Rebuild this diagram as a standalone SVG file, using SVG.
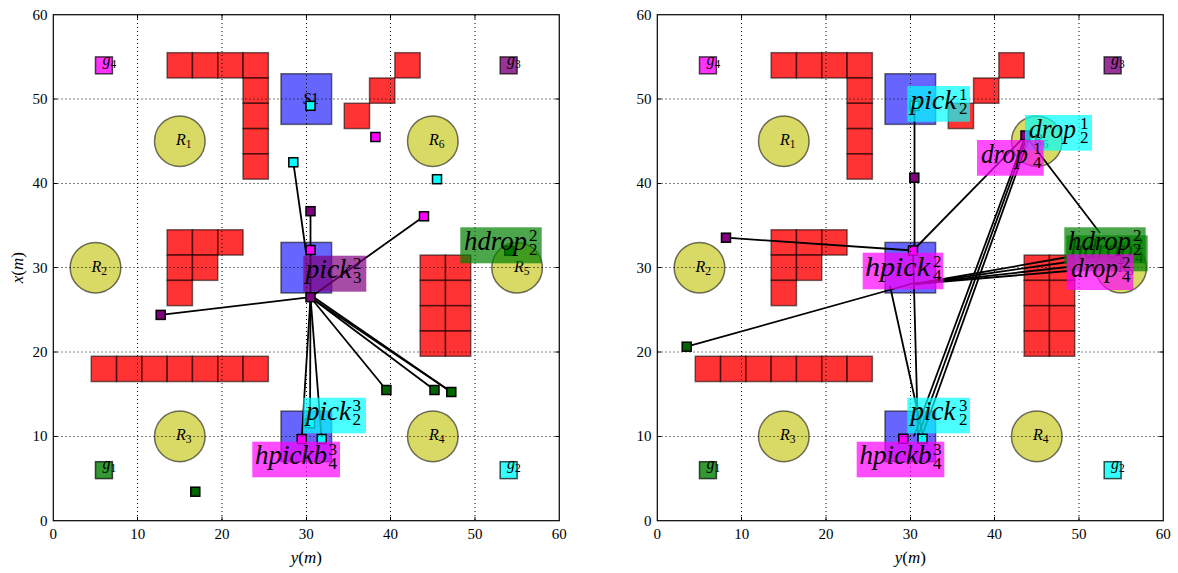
<svg xmlns="http://www.w3.org/2000/svg" width="1178" height="573" viewBox="0 0 1178 573">
<style>
.bg{fill:#fff}
.obs{fill:#ff0000;fill-opacity:0.8;stroke:#000;stroke-opacity:0.55;stroke-width:1.5}
.reg{fill:#bfbf00;fill-opacity:0.6;stroke:#000;stroke-opacity:0.55;stroke-width:1.5}
.blue{fill:#0000ff;fill-opacity:0.6;stroke:#000;stroke-opacity:0.55;stroke-width:1.5}
.grid{stroke:#000;stroke-width:1;stroke-dasharray:1,3;fill:none}
.frame{fill:none;stroke:#000;stroke-width:1.2}
.tick{stroke:#000;stroke-width:1}
.tl{font-family:"Liberation Serif",serif;font-size:15px;fill:#000}
.it{font-family:"Liberation Serif",serif;font-style:italic;fill:#000}
.rm{font-family:"Liberation Serif",serif;font-style:normal;fill:#000}
.lbl{font-size:16px}
.big{font-size:27px}
.dig{font-family:"Liberation Serif",serif;font-size:17px;fill:#000}
.m{stroke:#000;stroke-width:1.5}
.cy{fill:#00ffff}.mg{fill:#ff00ff}.pu{fill:#800080}.gr{fill:#006400}
.goal{stroke:#000;stroke-opacity:0.7;stroke-width:1.5;fill-opacity:0.8}
.edge{stroke:#000;stroke-width:1.8;fill:none}
.bx{stroke:none;fill-opacity:0.7}
</style>
<rect class="bg" x="0" y="0" width="1178" height="573"/>

<!-- ===== LEFT PLOT STATIC ===== -->
<g id="left-static">
<g id="L-obstacles">
<rect class="obs" x="167.15" y="52.67" width="25.3" height="25.3"/>
<rect class="obs" x="192.44" y="52.67" width="25.3" height="25.3"/>
<rect class="obs" x="217.74" y="52.67" width="25.3" height="25.3"/>
<rect class="obs" x="243.04" y="52.67" width="25.3" height="25.3"/>
<rect class="obs" x="243.04" y="77.97" width="25.3" height="25.3"/>
<rect class="obs" x="243.04" y="103.27" width="25.3" height="25.3"/>
<rect class="obs" x="243.04" y="128.57" width="25.3" height="25.3"/>
<rect class="obs" x="243.04" y="153.86" width="25.3" height="25.3"/>
<rect class="obs" x="167.15" y="229.76" width="25.3" height="25.3"/>
<rect class="obs" x="192.44" y="229.76" width="25.3" height="25.3"/>
<rect class="obs" x="217.74" y="229.76" width="25.3" height="25.3"/>
<rect class="obs" x="167.15" y="255.06" width="25.3" height="25.3"/>
<rect class="obs" x="192.44" y="255.06" width="25.3" height="25.3"/>
<rect class="obs" x="167.15" y="280.36" width="25.3" height="25.3"/>
<rect class="obs" x="91.25" y="356.26" width="25.3" height="25.3"/>
<rect class="obs" x="116.55" y="356.26" width="25.3" height="25.3"/>
<rect class="obs" x="141.85" y="356.26" width="25.3" height="25.3"/>
<rect class="obs" x="167.15" y="356.26" width="25.3" height="25.3"/>
<rect class="obs" x="192.44" y="356.26" width="25.3" height="25.3"/>
<rect class="obs" x="217.74" y="356.26" width="25.3" height="25.3"/>
<rect class="obs" x="243.04" y="356.26" width="25.3" height="25.3"/>
<rect class="obs" x="420.14" y="255.06" width="25.3" height="25.3"/>
<rect class="obs" x="445.43" y="255.06" width="25.3" height="25.3"/>
<rect class="obs" x="420.14" y="280.36" width="25.3" height="25.3"/>
<rect class="obs" x="445.43" y="280.36" width="25.3" height="25.3"/>
<rect class="obs" x="420.14" y="305.66" width="25.3" height="25.3"/>
<rect class="obs" x="445.43" y="305.66" width="25.3" height="25.3"/>
<rect class="obs" x="420.14" y="330.96" width="25.3" height="25.3"/>
<rect class="obs" x="445.43" y="330.96" width="25.3" height="25.3"/>
<rect class="obs" x="394.84" y="52.67" width="25.3" height="25.3"/>
<rect class="obs" x="369.54" y="77.97" width="25.3" height="25.3"/>
<rect class="obs" x="344.24" y="103.27" width="25.3" height="25.3"/>
</g>
<g id="L-stations">
<rect class="blue" x="281.0" y="73.75" width="50.6" height="50.6"/>
<rect class="blue" x="281.0" y="242.4" width="50.6" height="50.6"/>
<rect class="blue" x="281.0" y="411.1" width="50.6" height="50.6"/>
<text class="it lbl" x="303" y="104">S<tspan class="rm">1</tspan></text>
</g>
<g id="L-regions">
<circle class="reg" cx="179.8" cy="141.2" r="25.3"/>
<circle class="reg" cx="95.5" cy="267.7" r="25.3"/>
<circle class="reg" cx="179.8" cy="436.4" r="25.3"/>
<circle class="reg" cx="432.8" cy="436.4" r="25.3"/>
<circle class="reg" cx="517.1" cy="267.7" r="25.3"/>
<circle class="reg" cx="432.8" cy="141.2" r="25.3"/>
<text class="it lbl" x="176" y="145">R<tspan class="rm" font-size="11.5" dy="3">1</tspan></text>
<text class="it lbl" x="91.5" y="271.5">R<tspan class="rm" font-size="11.5" dy="3">2</tspan></text>
<text class="it lbl" x="176" y="440">R<tspan class="rm" font-size="11.5" dy="3">3</tspan></text>
<text class="it lbl" x="429" y="440">R<tspan class="rm" font-size="11.5" dy="3">4</tspan></text>
<text class="it lbl" x="514" y="271.5">R<tspan class="rm" font-size="11.5" dy="3">5</tspan></text>
<text class="it lbl" x="429" y="145">R<tspan class="rm" font-size="11.5" dy="3">6</tspan></text>
</g>
<g id="L-goals">
<rect class="goal mg" x="95.5" y="56.9" width="16.9" height="16.9"/>
<rect class="goal pu" x="500.2" y="56.9" width="16.9" height="16.9"/>
<rect class="goal" fill="#008000" x="95.5" y="461.7" width="16.9" height="16.9"/>
<rect class="goal cy" x="500.2" y="461.7" width="16.9" height="16.9"/>
<text class="it lbl" x="102.5" y="64.5">g<tspan class="rm" font-size="11.5" dy="3">4</tspan></text>
<text class="it lbl" x="507" y="64.5">g<tspan class="rm" font-size="11.5" dy="3">3</tspan></text>
<text class="it lbl" x="102.5" y="469.3">g<tspan class="rm" font-size="11.5" dy="3">1</tspan></text>
<text class="it lbl" x="507" y="469.3">g<tspan class="rm" font-size="11.5" dy="3">2</tspan></text>
</g>
</g>

<!-- ===== RIGHT PLOT STATIC (same layout shifted) ===== -->
<g id="right-static" transform="translate(604,0)">
<g id="R-obstacles">
<rect class="obs" x="167.15" y="52.67" width="25.3" height="25.3"/>
<rect class="obs" x="192.44" y="52.67" width="25.3" height="25.3"/>
<rect class="obs" x="217.74" y="52.67" width="25.3" height="25.3"/>
<rect class="obs" x="243.04" y="52.67" width="25.3" height="25.3"/>
<rect class="obs" x="243.04" y="77.97" width="25.3" height="25.3"/>
<rect class="obs" x="243.04" y="103.27" width="25.3" height="25.3"/>
<rect class="obs" x="243.04" y="128.57" width="25.3" height="25.3"/>
<rect class="obs" x="243.04" y="153.86" width="25.3" height="25.3"/>
<rect class="obs" x="167.15" y="229.76" width="25.3" height="25.3"/>
<rect class="obs" x="192.44" y="229.76" width="25.3" height="25.3"/>
<rect class="obs" x="217.74" y="229.76" width="25.3" height="25.3"/>
<rect class="obs" x="167.15" y="255.06" width="25.3" height="25.3"/>
<rect class="obs" x="192.44" y="255.06" width="25.3" height="25.3"/>
<rect class="obs" x="167.15" y="280.36" width="25.3" height="25.3"/>
<rect class="obs" x="91.25" y="356.26" width="25.3" height="25.3"/>
<rect class="obs" x="116.55" y="356.26" width="25.3" height="25.3"/>
<rect class="obs" x="141.85" y="356.26" width="25.3" height="25.3"/>
<rect class="obs" x="167.15" y="356.26" width="25.3" height="25.3"/>
<rect class="obs" x="192.44" y="356.26" width="25.3" height="25.3"/>
<rect class="obs" x="217.74" y="356.26" width="25.3" height="25.3"/>
<rect class="obs" x="243.04" y="356.26" width="25.3" height="25.3"/>
<rect class="obs" x="420.14" y="255.06" width="25.3" height="25.3"/>
<rect class="obs" x="445.43" y="255.06" width="25.3" height="25.3"/>
<rect class="obs" x="420.14" y="280.36" width="25.3" height="25.3"/>
<rect class="obs" x="445.43" y="280.36" width="25.3" height="25.3"/>
<rect class="obs" x="420.14" y="305.66" width="25.3" height="25.3"/>
<rect class="obs" x="445.43" y="305.66" width="25.3" height="25.3"/>
<rect class="obs" x="420.14" y="330.96" width="25.3" height="25.3"/>
<rect class="obs" x="445.43" y="330.96" width="25.3" height="25.3"/>
<rect class="obs" x="394.84" y="52.67" width="25.3" height="25.3"/>
<rect class="obs" x="369.54" y="77.97" width="25.3" height="25.3"/>
<rect class="obs" x="344.24" y="103.27" width="25.3" height="25.3"/>
</g>
<g id="R-stations">
<rect class="blue" x="281.0" y="73.75" width="50.6" height="50.6"/>
<rect class="blue" x="281.0" y="242.4" width="50.6" height="50.6"/>
<rect class="blue" x="281.0" y="411.1" width="50.6" height="50.6"/>
</g>
<g id="R-regions">
<circle class="reg" cx="179.8" cy="141.2" r="25.3"/>
<circle class="reg" cx="95.5" cy="267.7" r="25.3"/>
<circle class="reg" cx="179.8" cy="436.4" r="25.3"/>
<circle class="reg" cx="432.8" cy="436.4" r="25.3"/>
<circle class="reg" cx="517.1" cy="267.7" r="25.3"/>
<circle class="reg" cx="432.8" cy="141.2" r="25.3"/>
<text class="it lbl" x="176" y="145">R<tspan class="rm" font-size="11.5" dy="3">1</tspan></text>
<text class="it lbl" x="91.5" y="271.5">R<tspan class="rm" font-size="11.5" dy="3">2</tspan></text>
<text class="it lbl" x="176" y="440">R<tspan class="rm" font-size="11.5" dy="3">3</tspan></text>
<text class="it lbl" x="429" y="440">R<tspan class="rm" font-size="11.5" dy="3">4</tspan></text>
<text class="it lbl" x="514" y="271.5">R<tspan class="rm" font-size="11.5" dy="3">5</tspan></text>
<text class="it lbl" x="429" y="145">R<tspan class="rm" font-size="11.5" dy="3">6</tspan></text>
</g>
<g id="R-goals">
<rect class="goal mg" x="95.5" y="56.9" width="16.9" height="16.9"/>
<rect class="goal pu" x="500.2" y="56.9" width="16.9" height="16.9"/>
<rect class="goal" fill="#008000" x="95.5" y="461.7" width="16.9" height="16.9"/>
<rect class="goal cy" x="500.2" y="461.7" width="16.9" height="16.9"/>
<text class="it lbl" x="102.5" y="64.5">g<tspan class="rm" font-size="11.5" dy="3">4</tspan></text>
<text class="it lbl" x="507" y="64.5">g<tspan class="rm" font-size="11.5" dy="3">3</tspan></text>
<text class="it lbl" x="102.5" y="469.3">g<tspan class="rm" font-size="11.5" dy="3">1</tspan></text>
<text class="it lbl" x="507" y="469.3">g<tspan class="rm" font-size="11.5" dy="3">2</tspan></text>
</g>
</g>

<!-- ===== CONNECTORS ===== -->
<g id="connectors">
<line class="edge" x1="310.5" y1="297.2" x2="160.7" y2="314.9"/>
<line class="edge" x1="310.5" y1="297.2" x2="424" y2="216.3"/>
<line class="edge" x1="310.5" y1="211.2" x2="310.5" y2="297.2"/>
<line class="edge" x1="293.3" y1="162.3" x2="306" y2="252"/>
<line class="edge" x1="310.5" y1="297.2" x2="386.4" y2="390"/>
<line class="edge" x1="310.5" y1="297.2" x2="434.5" y2="390"/>
<line class="edge" x1="310.5" y1="297.2" x2="451.3" y2="392"/>
<line class="edge" x1="312" y1="296" x2="451.3" y2="392"/>
<line class="edge" x1="310.5" y1="297.2" x2="301.7" y2="439"/>
<line class="edge" x1="310.5" y1="297.2" x2="310" y2="423"/>
<line class="edge" x1="310.5" y1="297.2" x2="321.7" y2="439"/>

<line class="edge" x1="914.5" y1="105.8" x2="914.5" y2="250.5"/>
<line class="edge" x1="726" y1="237.7" x2="913" y2="250.5"/>
<line class="edge" x1="686.7" y1="346.7" x2="914.5" y2="283"/>
<line class="edge" x1="1025.5" y1="135.5" x2="913" y2="250.5"/>
<line class="edge" x1="1025.5" y1="135.5" x2="914" y2="436"/>
<line class="edge" x1="1027" y1="137" x2="918" y2="436"/>
<line class="edge" x1="1029" y1="138" x2="922" y2="436"/>
<line class="edge" x1="1025.5" y1="135.5" x2="1100" y2="233"/>
<line class="edge" x1="914.5" y1="284" x2="1068" y2="257"/>
<line class="edge" x1="914.5" y1="284" x2="1068" y2="262"/>
<line class="edge" x1="914.5" y1="284" x2="1068" y2="267"/>
<line class="edge" x1="914.5" y1="284" x2="1068" y2="271"/>
<line class="edge" x1="890" y1="286" x2="923" y2="436"/>
<line class="edge" x1="913" y1="250.5" x2="918" y2="436"/>
</g>

<!-- ===== WAYPOINT MARKERS ===== -->
<g id="L-markers">
<rect class="m cy" x="288.8" y="157.8" width="9" height="9"/>
<rect class="m cy" x="306" y="101.3" width="9" height="9"/>
<rect class="m mg" x="370.9" y="132.5" width="9" height="9"/>
<rect class="m cy" x="432.5" y="174.7" width="9" height="9"/>
<rect class="m pu" x="306" y="206.7" width="9" height="9"/>
<rect class="m mg" x="306" y="245.5" width="9" height="9"/>
<rect class="m pu" x="156.2" y="310.4" width="9" height="9"/>
<rect class="m pu" x="306" y="292.7" width="9" height="9"/>
<rect class="m mg" x="419.5" y="211.8" width="9" height="9"/>
<rect class="m gr" x="381.9" y="385.5" width="9" height="9"/>
<rect class="m gr" x="430" y="385.5" width="9" height="9"/>
<rect class="m gr" x="446.8" y="387.5" width="9" height="9"/>
<rect class="m gr" x="190.8" y="487.2" width="9" height="9"/>
<rect class="m gr" x="504.8" y="246.3" width="9" height="9"/>
<rect class="m mg" x="297.2" y="434.5" width="9" height="9"/>
<rect class="m cy" x="317.2" y="434.5" width="9" height="9"/>
<rect class="m cy" x="305.5" y="418.8" width="9" height="9"/>
</g>
<g id="R-markers">
<rect class="m cy" x="910" y="101.3" width="9" height="9"/>
<rect class="m pu" x="909.8" y="173.2" width="9" height="9"/>
<rect class="m pu" x="1021" y="131" width="9" height="9"/>
<rect class="m pu" x="721.5" y="233.2" width="9" height="9"/>
<rect class="m gr" x="682.2" y="342.2" width="9" height="9"/>
<rect class="m mg" x="908.5" y="246" width="9" height="9"/>
<rect class="m mg" x="898.8" y="434.2" width="9" height="9"/>
<rect class="m cy" x="918" y="434.2" width="9" height="9"/>
</g>

<!-- ===== AXES, GRID, TICKS ===== -->
<g id="L-axes">
<path class="grid" d="M137.5 15V520.5M222 15V520.5M306.5 15V520.5M390.5 15V520.5M475 15V520.5M53.5 436.5H559M53.5 352H559M53.5 267.5H559M53.5 183.5H559M53.5 99H559"/>
<path class="tick" d="M137.5 520.7v-4M222 520.7v-4M306.5 520.7v-4M390.5 520.7v-4M475 520.7v-4M137.5 14.72v4M222 14.72v4M306.5 14.72v4M390.5 14.72v4M475 14.72v4M53.3 436.5h4M53.3 352h4M53.3 267.5h4M53.3 183.5h4M53.3 99h4M559.28 436.5h-4M559.28 352h-4M559.28 267.5h-4M559.28 183.5h-4M559.28 99h-4"/>
<rect class="frame" x="53.3" y="14.72" width="505.98" height="505.98"/>
<g class="tl" text-anchor="middle">
<text x="53.3" y="538.5">0</text><text x="137.63" y="538.5">10</text><text x="221.96" y="538.5">20</text><text x="306.29" y="538.5">30</text><text x="390.62" y="538.5">40</text><text x="474.95" y="538.5">50</text><text x="559.28" y="538.5">60</text>
</g>
<g class="tl" text-anchor="end">
<text x="47.5" y="525.7">0</text><text x="47.5" y="441.4">10</text><text x="47.5" y="357">20</text><text x="47.5" y="272.7">30</text><text x="47.5" y="188.4">40</text><text x="47.5" y="104">50</text><text x="47.5" y="19.7">60</text>
</g>
<text class="it" font-size="17" x="306.3" y="563" text-anchor="middle">y<tspan class="rm">(</tspan>m<tspan class="rm">)</tspan></text>
<text class="it" font-size="17" transform="translate(23,267.7) rotate(-90)" text-anchor="middle">x<tspan class="rm">(</tspan>m<tspan class="rm">)</tspan></text>
</g>
<g id="R-axes">
<path class="grid" d="M741.5 15V520.5M826 15V520.5M910.5 15V520.5M994.5 15V520.5M1079 15V520.5M657.5 436.5H1163M657.5 352H1163M657.5 267.5H1163M657.5 183.5H1163M657.5 99H1163"/>
<path class="tick" d="M741.5 520.7v-4M826 520.7v-4M910.5 520.7v-4M994.5 520.7v-4M1079 520.7v-4M741.5 14.72v4M826 14.72v4M910.5 14.72v4M994.5 14.72v4M1079 14.72v4M657.3 436.5h4M657.3 352h4M657.3 267.5h4M657.3 183.5h4M657.3 99h4M1163.28 436.5h-4M1163.28 352h-4M1163.28 267.5h-4M1163.28 183.5h-4M1163.28 99h-4"/>
<rect class="frame" x="657.3" y="14.72" width="505.98" height="505.98"/>
<g class="tl" text-anchor="middle">
<text x="657.3" y="538.5">0</text><text x="741.63" y="538.5">10</text><text x="825.96" y="538.5">20</text><text x="910.29" y="538.5">30</text><text x="994.62" y="538.5">40</text><text x="1078.95" y="538.5">50</text><text x="1163.28" y="538.5">60</text>
</g>
<g class="tl" text-anchor="end">
<text x="651.5" y="525.7">0</text><text x="651.5" y="441.4">10</text><text x="651.5" y="357">20</text><text x="651.5" y="272.7">30</text><text x="651.5" y="188.4">40</text><text x="651.5" y="104">50</text><text x="651.5" y="19.7">60</text>
</g>
<text class="it" font-size="17" x="910.3" y="563" text-anchor="middle">y<tspan class="rm">(</tspan>m<tspan class="rm">)</tspan></text>
</g>

<!-- ===== ACTION LABELS ===== -->
<g id="L-lbl-pick32">
<rect class="bx" fill="#800080" x="303.3" y="255.7" width="63" height="36"/>
<text class="it big" x="305.5" y="278.2" textLength="46" lengthAdjust="spacingAndGlyphs">pick</text>
<text class="dig" x="353" y="269">2</text><text class="dig" x="353" y="283.2">3</text>
</g>
<g id="L-lbl-hdrop22">
<rect class="bx" fill="#008000" x="460.3" y="227.3" width="81.4" height="36"/>
<text class="it big" x="464" y="249.8" textLength="63" lengthAdjust="spacingAndGlyphs">hdrop</text>
<text class="dig" x="529" y="240.6">2</text><text class="dig" x="529" y="254.8">2</text>
</g>
<g id="L-lbl-pick23">
<rect class="bx" fill="#00ffff" x="303.3" y="397.7" width="62.7" height="35.6"/>
<text class="it big" x="306" y="420.2" textLength="45" lengthAdjust="spacingAndGlyphs">pick</text>
<text class="dig" x="352.5" y="411.2">3</text><text class="dig" x="352.5" y="425.2">2</text>
</g>
<g id="L-lbl-hpickb43">
<rect class="bx" fill="#ff00ff" x="252.3" y="441.7" width="87.7" height="35.6"/>
<text class="it big" x="255" y="464.2" textLength="72" lengthAdjust="spacingAndGlyphs">hpickb</text>
<text class="dig" x="328.5" y="455.2">3</text><text class="dig" x="328.5" y="469.2">4</text>
</g>

<g id="R-lbl-pick21">
<rect class="bx" fill="#00ffff" x="907.3" y="86" width="62.7" height="35.7"/>
<text class="it big" x="910.5" y="108.5" textLength="46" lengthAdjust="spacingAndGlyphs">pick</text>
<text class="dig" x="959" y="99.5">1</text><text class="dig" x="959" y="113.5">2</text>
</g>
<g id="R-lbl-drop21">
<rect class="bx" fill="#00ffff" x="1025" y="115" width="67" height="35.7"/>
<text class="it big" x="1029" y="137.5" textLength="47" lengthAdjust="spacingAndGlyphs">drop</text>
<text class="dig" x="1080" y="128.5">1</text><text class="dig" x="1080" y="142.5">2</text>
</g>
<g id="R-lbl-drop41">
<rect class="bx" fill="#ff00ff" x="977" y="140" width="66.7" height="35.7"/>
<text class="it big" x="981" y="162.5" textLength="47" lengthAdjust="spacingAndGlyphs">drop</text>
<text class="dig" x="1033" y="153.5">1</text><text class="dig" x="1033" y="167.5">4</text>
</g>
<g id="R-lbl-hpick42">
<rect class="bx" fill="#ff00ff" x="862.7" y="252.7" width="80.6" height="36.6"/>
<text class="it big" x="865" y="275.5" textLength="65" lengthAdjust="spacingAndGlyphs">hpick</text>
<text class="dig" x="933" y="266.5">2</text><text class="dig" x="933" y="280.5">4</text>
</g>
<g id="R-lbl-hdrop42">
<rect class="bx" fill="#008000" x="1066.3" y="235.3" width="81.4" height="36"/>
<text class="it big" x="1070" y="257.8" textLength="63" lengthAdjust="spacingAndGlyphs">hdrop</text>
<text class="dig" x="1135" y="248.6">2</text><text class="dig" x="1135" y="262.8">4</text>
</g>
<g id="R-lbl-hdrop22">
<rect class="bx" fill="#008000" x="1064.3" y="227.3" width="81.4" height="36"/>
<text class="it big" x="1068" y="249.8" textLength="63" lengthAdjust="spacingAndGlyphs">hdrop</text>
<text class="dig" x="1133" y="240.6">2</text><text class="dig" x="1133" y="254.8">2</text>
</g>
<g id="R-lbl-drop42">
<rect class="bx" fill="#ff00ff" x="1066.7" y="254.3" width="66.6" height="35.7"/>
<text class="it big" x="1071" y="276.8" textLength="47" lengthAdjust="spacingAndGlyphs">drop</text>
<text class="dig" x="1122" y="267.8">2</text><text class="dig" x="1122" y="281.8">4</text>
</g>
<g id="R-lbl-pick23">
<rect class="bx" fill="#00ffff" x="907.3" y="397.7" width="62.7" height="35.6"/>
<text class="it big" x="910.5" y="420.2" textLength="45" lengthAdjust="spacingAndGlyphs">pick</text>
<text class="dig" x="959" y="411.2">3</text><text class="dig" x="959" y="425.2">2</text>
</g>
<g id="R-lbl-hpickb43">
<rect class="bx" fill="#ff00ff" x="856.7" y="441.7" width="87.6" height="35.6"/>
<text class="it big" x="859.5" y="464.2" textLength="72" lengthAdjust="spacingAndGlyphs">hpickb</text>
<text class="dig" x="933" y="455.2">3</text><text class="dig" x="933" y="469.2">4</text>
</g>
</svg>
